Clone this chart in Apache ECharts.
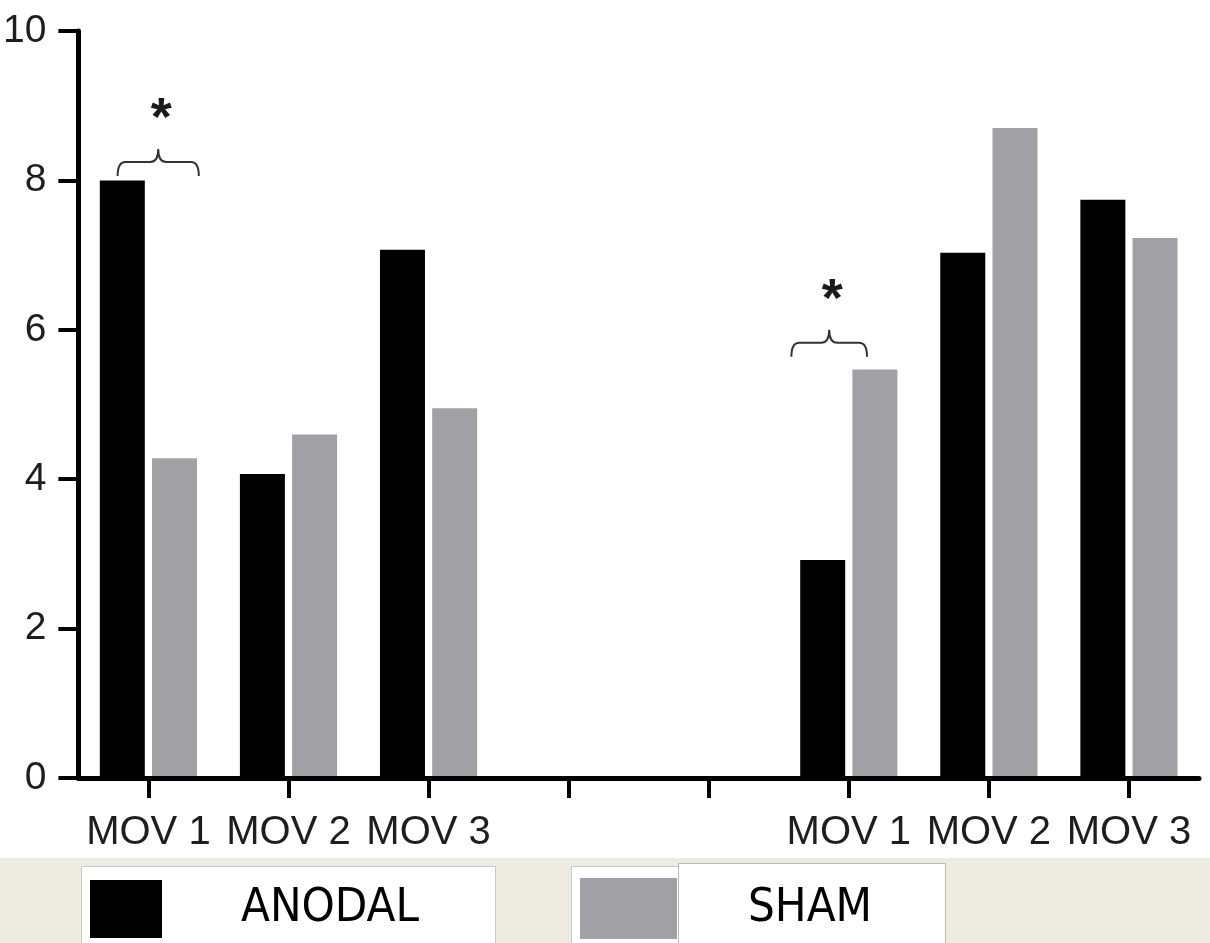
<!DOCTYPE html>
<html>
<head>
<meta charset="utf-8">
<script src="https://cdn.jsdelivr.net/npm/echarts@6/dist/echarts.min.js"></script>
<style>
  html, body { margin: 0; padding: 0; background: #ffffff; }
  #chart { width: 1210px; height: 943px; }
</style>
</head>
<body>
<div id="chart"></div>
<script>
// ---- data ----
const categories = ['MOV 1', 'MOV 2', 'MOV 3', '', '', 'MOV 1', 'MOV 2', 'MOV 3'];
const anodal = [8.0, 4.07, 7.07, null, null, 2.92, 7.03, 7.74];
const sham   = [4.28, 4.6, 4.95, null, null, 5.47, 8.7, 7.23];
const yTicks = [0, 2, 4, 6, 8, 10];
const seriesNames = ['ANODAL', 'SHAM'];
// significance markers: category index and value at brace foot
const sigCats = [0, 5];
const sigValues = [8.06, 5.64];

// ---- style helpers ----
const braceSpan = [[-0.22, 0.36], [-0.41, 0.13]]; // fraction of band width
const FONT = "'Liberation Sans', Arial, sans-serif";
const LEGEND_FONT = "'DejaVu Sans Condensed', 'Liberation Sans', sans-serif";

const chart = echarts.init(document.getElementById('chart'), null, { renderer: 'canvas' });

const option = {
  animation: false,
  backgroundColor: '#ffffff',
  grid: { left: 77, right: 11, top: 31, bottom: 165, containLabel: false },
  xAxis: {
    type: 'category',
    data: categories,
    z: 10,
    axisLine: { show: true, lineStyle: { color: '#000', width: 5 } },
    axisTick: { show: true, alignWithLabel: true, length: 20, lineStyle: { color: '#000', width: 4 } },
    axisLabel: { interval: 0, margin: 35, fontSize: 40, color: '#1e1e1e', fontFamily: FONT },
    splitLine: { show: false }
  },
  yAxis: {
    type: 'value',
    min: yTicks[0],
    max: yTicks[yTicks.length - 1],
    interval: yTicks[1] - yTicks[0],
    z: 10,
    axisLine: { show: true, lineStyle: { color: '#000', width: 5 } },
    axisTick: { show: true, length: 20, lineStyle: { color: '#000', width: 4 } },
    axisLabel: { margin: 32, fontSize: 39, color: '#1e1e1e', fontFamily: FONT },
    splitLine: { show: false }
  },
  legend: [
    {
      data: [seriesNames[0]], left: 90, top: 880, padding: 0,
      itemWidth: 72, itemHeight: 58, icon: 'rect', selectedMode: false,
      textStyle: { fontSize: 47, color: '#000', fontFamily: LEGEND_FONT, padding: [0, 0, 0, 74] }
    },
    {
      data: [seriesNames[1]], left: 580, top: 878, padding: 0,
      itemWidth: 97, itemHeight: 61, icon: 'rect', selectedMode: false,
      textStyle: { fontSize: 47, color: '#000', fontFamily: LEGEND_FONT, padding: [0, 0, 0, 66] }
    }
  ],
  graphic: [
    { type: 'rect', left: 0, top: 858, z: -10, shape: { width: 1210, height: 85 }, style: { fill: '#eeebe0' } },
    { type: 'rect', left: 81, top: 866, z: -9, shape: { width: 414, height: 80 }, style: { fill: '#ffffff', stroke: '#c8c8c8', lineWidth: 1 } },
    { type: 'rect', left: 571, top: 866, z: -9, shape: { width: 110, height: 80 }, style: { fill: '#ffffff', stroke: '#c8c8c8', lineWidth: 1 } },
    { type: 'rect', left: 678, top: 863, z: -8, shape: { width: 267, height: 84 }, style: { fill: '#ffffff', stroke: '#b8b8b8', lineWidth: 1 } }
  ],
  series: [
    {
      name: seriesNames[0], type: 'bar', data: anodal,
      barWidth: 45, barGap: '16%',
      itemStyle: { color: '#000000' }
    },
    {
      name: seriesNames[1], type: 'bar', data: sham,
      barWidth: 45, barGap: '16%',
      itemStyle: { color: '#a1a0a5' }
    },
    {
      type: 'custom',
      z: 5,
      silent: true,
      data: sigCats.map((c, i) => [c, sigValues[i]]),
      renderItem: function (params, api) {
        const i = params.dataIndex;
        const p = api.coord([api.value(0), api.value(1)]);
        const band = api.size([1, 0])[0];
        const xl = p[0] + braceSpan[i][0] * band;
        const xr = p[0] + braceSpan[i][1] * band;
        const xm = (xl + xr) / 2;
        const yb = p[1];
        const yt = yb - 14;
        const yp = yb - 27;
        const r = 8;
        const path = 'M' + xl + ',' + yb +
          ' Q' + xl + ',' + yt + ' ' + (xl + r) + ',' + yt +
          ' L' + (xm - r) + ',' + yt +
          ' Q' + xm + ',' + yt + ' ' + xm + ',' + yp +
          ' Q' + xm + ',' + yt + ' ' + (xm + r) + ',' + yt +
          ' L' + (xr - r) + ',' + yt +
          ' Q' + xr + ',' + yt + ' ' + xr + ',' + yb;
        return {
          type: 'group',
          children: [
            { type: 'path', shape: { pathData: path }, style: { fill: 'none', stroke: '#333', lineWidth: 2 } },
            { type: 'text', style: { text: '*', x: xm + 3, y: yb - 56, align: 'center', verticalAlign: 'middle',
                font: 'bold 54px ' + FONT, fill: '#1a1a1a' } }
          ]
        };
      }
    }
  ]
};

chart.setOption(option);
</script>
</body>
</html>
